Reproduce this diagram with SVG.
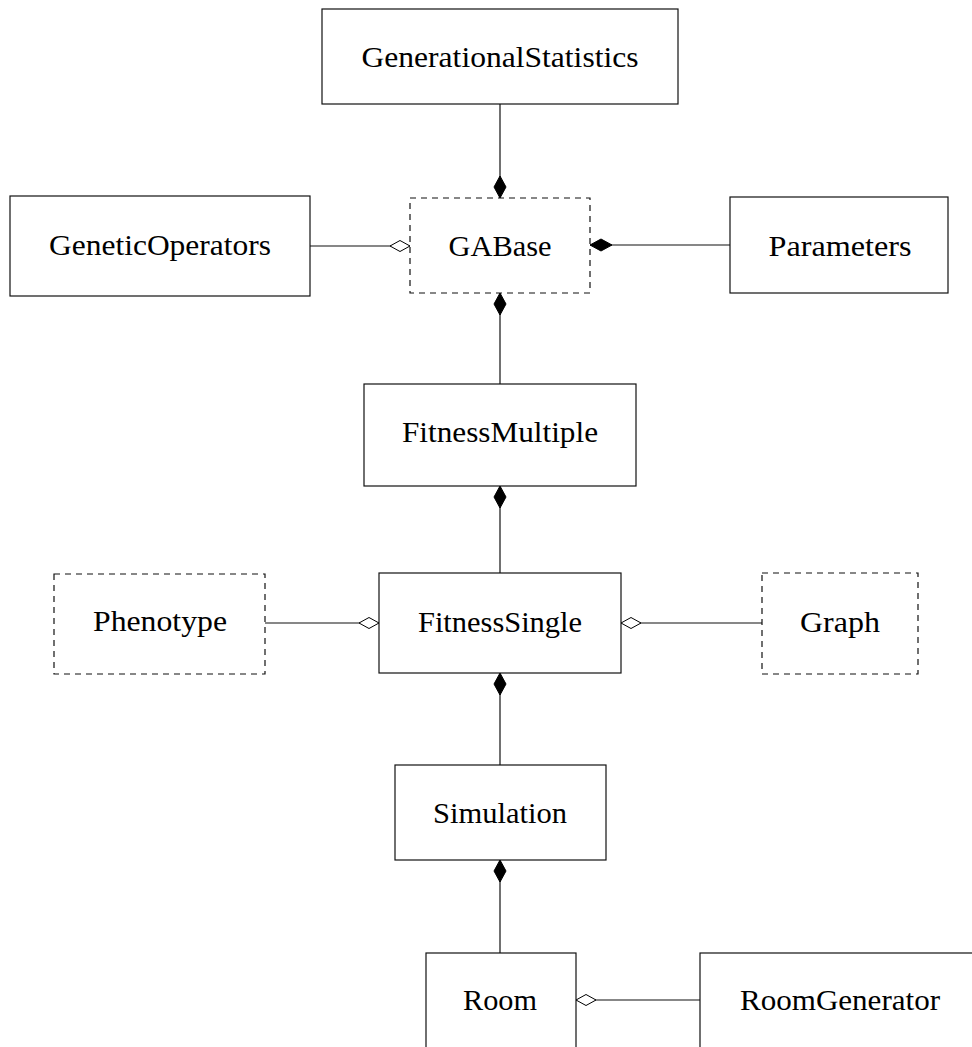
<svg xmlns="http://www.w3.org/2000/svg" width="972" height="1047" viewBox="0 0 972 1047">
  <style>
    .box { fill: #ffffff; stroke: #111111; stroke-width: 1.2; }
    .dashed { stroke-dasharray: 6 5; }
    .label { font-family: "Liberation Serif", "DejaVu Serif", serif; font-size: 30px; fill: #000000; text-anchor: middle; }
    .edge { stroke: #111111; stroke-width: 1.2; fill: none; }
    .filled { fill: #000000; stroke: #000000; stroke-width: 1; }
    .hollow { fill: #ffffff; stroke: #000000; stroke-width: 1; }
  </style>
  <rect width="972" height="1047" fill="#ffffff"/>

  <!-- connectors: line plus diamond at the owning class -->
  <g id="connectors">
    <line class="edge" x1="500" y1="104" x2="500" y2="198"/>
    <path class="filled" d="M500,198 L506,187 L500,176 L494,187 Z"/>

    <line class="edge" x1="310" y1="246" x2="410" y2="246"/>
    <path class="hollow" d="M410,246 L400,240.5 L390,246 L400,251.5 Z"/>

    <line class="edge" x1="730" y1="245" x2="590" y2="245"/>
    <path class="filled" d="M590,245 L601,239 L612,245 L601,251 Z"/>

    <line class="edge" x1="500" y1="384" x2="500" y2="293"/>
    <path class="filled" d="M500,293 L506,304 L500,315 L494,304 Z"/>

    <line class="edge" x1="500" y1="573" x2="500" y2="486"/>
    <path class="filled" d="M500,486 L506,497 L500,508 L494,497 Z"/>

    <line class="edge" x1="265" y1="623" x2="379" y2="623"/>
    <path class="hollow" d="M379,623 L369,617.5 L359,623 L369,628.5 Z"/>

    <line class="edge" x1="762" y1="623" x2="621" y2="623"/>
    <path class="hollow" d="M621,623 L631,617.5 L641,623 L631,628.5 Z"/>

    <line class="edge" x1="500" y1="765" x2="500" y2="673"/>
    <path class="filled" d="M500,673 L506,684 L500,695 L494,684 Z"/>

    <line class="edge" x1="500" y1="953" x2="500" y2="860"/>
    <path class="filled" d="M500,860 L506,871 L500,882 L494,871 Z"/>

    <line class="edge" x1="700" y1="1000" x2="576" y2="1000"/>
    <path class="hollow" d="M576,1000 L586,994.5 L596,1000 L586,1005.5 Z"/>
  </g>

  <g id="GenerationalStatistics">
    <rect class="box" x="322" y="9" width="356" height="95"/>
    <text class="label" x="500" y="67" textLength="277" lengthAdjust="spacingAndGlyphs">GenerationalStatistics</text>
  </g>
  <g id="GeneticOperators">
    <rect class="box" x="10" y="196" width="300" height="100"/>
    <text class="label" x="160" y="255" textLength="222" lengthAdjust="spacingAndGlyphs">GeneticOperators</text>
  </g>
  <g id="GABase">
    <rect class="box dashed" x="410" y="198" width="180" height="95"/>
    <text class="label" x="500" y="256" textLength="103" lengthAdjust="spacingAndGlyphs">GABase</text>
  </g>
  <g id="Parameters">
    <rect class="box" x="730" y="197" width="218" height="96"/>
    <text class="label" x="840" y="256" textLength="143" lengthAdjust="spacingAndGlyphs">Parameters</text>
  </g>
  <g id="FitnessMultiple">
    <rect class="box" x="364" y="384" width="272" height="102"/>
    <text class="label" x="500" y="442" textLength="196" lengthAdjust="spacingAndGlyphs">FitnessMultiple</text>
  </g>
  <g id="Phenotype">
    <rect class="box dashed" x="54" y="574" width="211" height="100"/>
    <text class="label" x="160" y="631" textLength="134" lengthAdjust="spacingAndGlyphs">Phenotype</text>
  </g>
  <g id="FitnessSingle">
    <rect class="box" x="379" y="573" width="242" height="100"/>
    <text class="label" x="500" y="632" textLength="164" lengthAdjust="spacingAndGlyphs">FitnessSingle</text>
  </g>
  <g id="Graph">
    <rect class="box dashed" x="762" y="573" width="156" height="101"/>
    <text class="label" x="840" y="632" textLength="80" lengthAdjust="spacingAndGlyphs">Graph</text>
  </g>
  <g id="Simulation">
    <rect class="box" x="395" y="765" width="211" height="95"/>
    <text class="label" x="500" y="823" textLength="134" lengthAdjust="spacingAndGlyphs">Simulation</text>
  </g>
  <g id="Room">
    <rect class="box" x="426" y="953" width="150" height="110"/>
    <text class="label" x="500" y="1010" textLength="74" lengthAdjust="spacingAndGlyphs">Room</text>
  </g>
  <g id="RoomGenerator">
    <rect class="box" x="700" y="953" width="290" height="110"/>
    <text class="label" x="840" y="1010" textLength="200" lengthAdjust="spacingAndGlyphs">RoomGenerator</text>
  </g>
</svg>
